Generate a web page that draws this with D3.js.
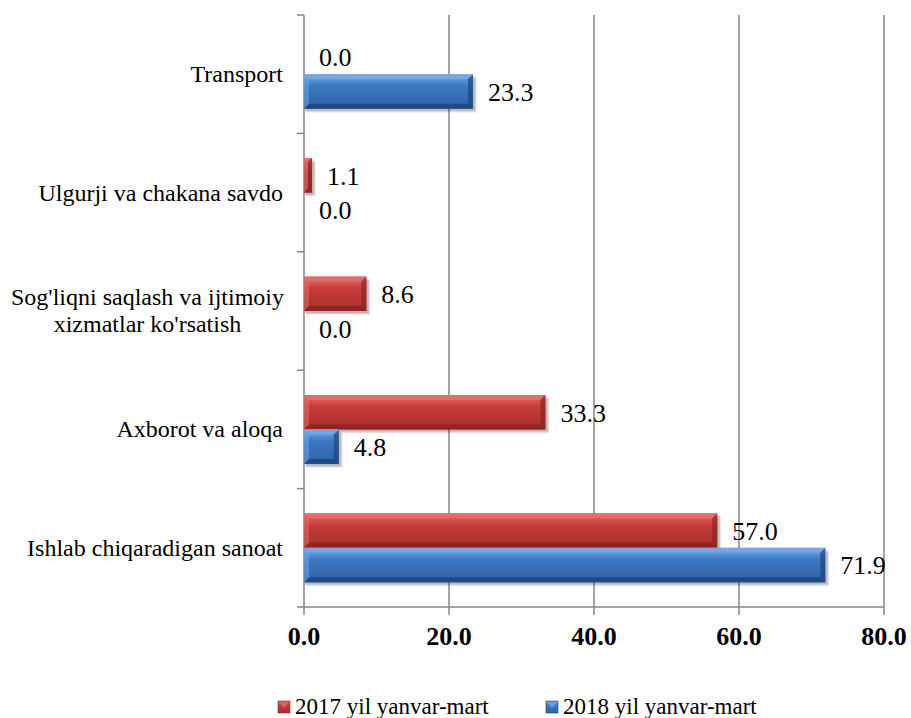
<!DOCTYPE html>
<html>
<head>
<meta charset="utf-8">
<script src="https://cdn.jsdelivr.net/npm/d3@7"></script>
</head>
<body style="margin:0">
<svg id="chart" width="911" height="718"></svg>
<script>
// data
const categories = [
  ['Transport'],
  ['Ulgurji va chakana savdo'],
  ["Sog'liqni saqlash va ijtimoiy", "xizmatlar ko'rsatish"],
  ['Axborot va aloqa'],
  ['Ishlab chiqaradigan sanoat']
];
const seriesNames = ['2017 yil yanvar-mart', '2018 yil yanvar-mart'];
const values2017 = [0.0, 1.1, 8.6, 33.3, 57.0];
const values2018 = [23.3, 0.0, 0.0, 4.8, 71.9];
const xTicks = [0, 20, 40, 60, 80];

const FONT = '"Liberation Serif"';
const palette = [
  { main: '#c43c3a', light: '#e86d69', dark: '#8a2322', side: '#a82f2d' },
  { main: '#3b77c2', light: '#72aaec', dark: '#1f4679', side: '#2f62a4' }
];

const svg = d3.select('#chart');
const plotLeft = 304, plotRight = 884, plotTop = 15, plotBottom = 607;

const x = d3.scaleLinear().domain([0, 80]).range([plotLeft, plotRight]);
const keys = categories.map((c, i) => i);
const y = d3.scaleBand().domain(keys).range([plotTop, plotBottom]);
const y1 = d3.scaleBand().domain([0, 1]).range([0, y.bandwidth()]).paddingOuter(0.716);

const defs = svg.append('defs');
palette.forEach((p, i) => {
  const g = defs.append('linearGradient').attr('id', 'grad' + i)
    .attr('x1', 0).attr('y1', 0).attr('x2', 0).attr('y2', 1);
  g.append('stop').attr('offset', '0%').attr('stop-color', p.light);
  g.append('stop').attr('offset', '35%').attr('stop-color', p.main);
  g.append('stop').attr('offset', '100%').attr('stop-color', p.side);
});

// gridlines
svg.append('g')
  .selectAll('line')
  .data(xTicks.slice(1))
  .enter()
  .append('line')
  .attr('x1', d => x(d)).attr('x2', d => x(d))
  .attr('y1', plotTop).attr('y2', plotBottom)
  .attr('stroke', '#868686').attr('stroke-width', 1.5);

// x axis, drawn by hand so the labels get the serif face
const xAxis = svg.append('g');
xAxis.append('line')
  .attr('x1', plotLeft).attr('x2', plotRight).attr('y1', plotBottom).attr('y2', plotBottom)
  .attr('stroke', '#868686').attr('stroke-width', 1.5);
xAxis.selectAll('line.tick')
  .data(xTicks)
  .enter()
  .append('line')
  .attr('class', 'tick')
  .attr('x1', d => x(d)).attr('x2', d => x(d))
  .attr('y1', plotBottom).attr('y2', plotBottom + 8)
  .attr('stroke', '#868686').attr('stroke-width', 1.5);
xAxis.selectAll('text')
  .data(xTicks)
  .enter()
  .append('text')
  .attr('x', d => x(d)).attr('y', plotBottom + 38)
  .attr('text-anchor', 'middle')
  .attr('font-family', 'Liberation Serif')
  .style('font-family', FONT)
  .attr('font-size', 26).attr('font-weight', 'bold').attr('fill', '#000')
  .text(d => d3.format('.1f')(d));

// y axis line and band ticks
svg.append('line')
  .attr('x1', plotLeft).attr('x2', plotLeft).attr('y1', plotTop).attr('y2', plotBottom)
  .attr('stroke', '#868686').attr('stroke-width', 1.5);
const bounds = keys.map(k => y(k)).concat([plotBottom]);
svg.append('g')
  .selectAll('line')
  .data(bounds)
  .enter()
  .append('line')
  .attr('x1', plotLeft - 7).attr('x2', plotLeft)
  .attr('y1', d => d).attr('y2', d => d)
  .attr('stroke', '#868686').attr('stroke-width', 1.5);

// category labels
const labelRight = 283;
const catG = svg.append('g');
categories.forEach((lines, i) => {
  const cy = y(i) + y.bandwidth() / 2;
  const lh = 27;
  lines.forEach((ln, j) => {
    catG.append('text')
      .attr('x', lines.length === 1 ? labelRight : labelRight - 135.5)
      .attr('y', cy + (j - (lines.length - 1) / 2) * lh)
      .attr('dy', '0.33em')
      .attr('text-anchor', lines.length === 1 ? 'end' : 'middle')
      .attr('font-family', 'Liberation Serif')
      .style('font-family', FONT)
      .attr('font-size', 24).attr('fill', '#000')
      .text(ln);
  });
});

// bars
const rows = [];
keys.forEach(k => {
  rows.push({ cat: k, s: 0, v: values2017[k] });
  rows.push({ cat: k, s: 1, v: values2018[k] });
});

function bevelBar(g, d) {
  const x0 = x(0), x1 = x(d.v);
  const y0 = y(d.cat) + y1(d.s), h = y1.bandwidth(), yb = y0 + h;
  const w = x1 - x0;
  if (w <= 0) return;
  const p = palette[d.s];
  const b = Math.min(5, w / 2);
  const bar = g.append('g');
  // soft shadow
  [[4, 0.08], [3, 0.1], [2, 0.12]].forEach(([o, a]) => {
    bar.append('rect')
      .attr('x', x0 + o * 0.5).attr('y', y0 + o).attr('width', w + o * 0.5).attr('height', h)
      .attr('fill', '#000').attr('opacity', a);
  });
  bar.append('rect')
    .attr('x', x0).attr('y', y0).attr('width', w).attr('height', h)
    .attr('fill', `url(#grad${d.s})`);
  const poly = pts => pts.map(q => q.join(',')).join(' ');
  bar.append('polygon')
    .attr('points', poly([[x0, y0], [x1, y0], [x1 - b, y0 + b], [x0 + b, y0 + b]]))
    .attr('fill', p.light).attr('opacity', 0.85);
  bar.append('polygon')
    .attr('points', poly([[x0, yb], [x1, yb], [x1 - b, yb - b], [x0 + b, yb - b]]))
    .attr('fill', p.dark).attr('opacity', 0.85);
  bar.append('polygon')
    .attr('points', poly([[x1, y0], [x1, yb], [x1 - b, yb - b], [x1 - b, y0 + b]]))
    .attr('fill', p.dark).attr('opacity', 0.7);
  bar.append('polygon')
    .attr('points', poly([[x0, y0], [x0, yb], [x0 + b, yb - b], [x0 + b, y0 + b]]))
    .attr('fill', p.light).attr('opacity', 0.5);
}

const barG = svg.append('g');
rows.forEach(d => bevelBar(barG, d));

// value labels
svg.append('g')
  .selectAll('text')
  .data(rows)
  .enter()
  .append('text')
  .attr('x', d => x(d.v) + 15)
  .attr('y', d => y(d.cat) + y1(d.s) + y1.bandwidth() / 2)
  .attr('dy', '0.36em')
  .attr('font-family', 'Liberation Serif')
  .style('font-family', FONT)
  .attr('font-size', 26)
  .attr('fill', '#000')
  .text(d => d3.format('.1f')(d.v));

// legend
const legendItems = [
  { name: seriesNames[0], s: 0, x: 278 },
  { name: seriesNames[1], s: 1, x: 546 }
];
const leg = svg.append('g');
legendItems.forEach(it => {
  const p = palette[it.s];
  leg.append('rect')
    .attr('x', it.x).attr('y', 701).attr('width', 12).attr('height', 12)
    .attr('fill', `url(#grad${it.s})`).attr('stroke', p.dark).attr('stroke-width', 0.6);
  leg.append('polygon')
    .attr('points', `${it.x + 2},${703} ${it.x + 10},${703} ${it.x + 6},${708}`)
    .attr('fill', p.light).attr('opacity', 0.8);
  leg.append('text')
    .attr('x', it.x + 17).attr('y', 714)
    .attr('font-family', 'Liberation Serif')
    .style('font-family', FONT)
    .attr('font-size', 23).attr('fill', '#000')
    .text(it.name);
});
</script>
</body>
</html>
